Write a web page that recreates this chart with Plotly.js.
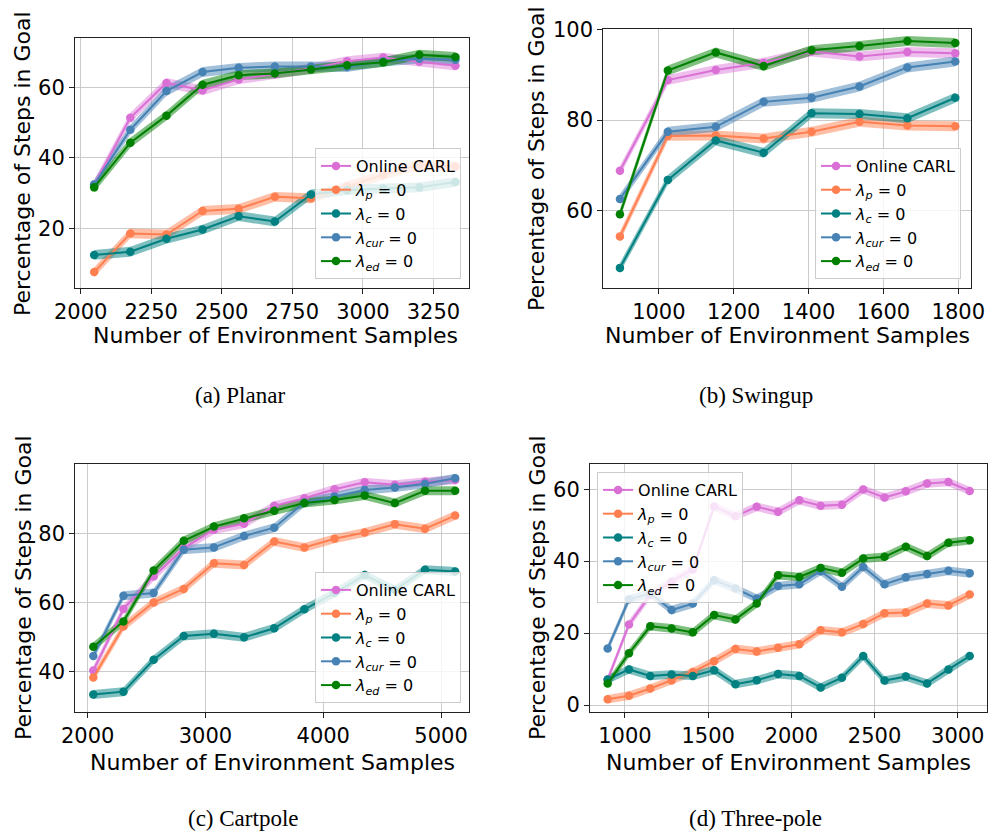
<!DOCTYPE html>
<html>
<head>
<meta charset="utf-8">
<script src="https://cdn.plot.ly/plotly-3.0.1.min.js"></script>
<style>html,body{margin:0;padding:0;background:#fff;}#chart{width:988px;height:832px;}</style>
</head>
<body>
<div id="chart"></div>
<script>
// ---------- data ----------
const seriesNames = ["Online CARL", "<i>λ</i><sub><i>p</i></sub> = 0", "<i>λ</i><sub><i>c</i></sub> = 0", "<i>λ</i><sub><i>cur</i></sub> = 0", "<i>λ</i><sub><i>ed</i></sub> = 0"];
const captions = ["(a) Planar", "(b) Swingup", "(c) Cartpole", "(d) Three-pole"];
const xTitle = "Number of Environment Samples";
const yTitle = "Percentage of Steps in Goal";

// (a) Planar
const xA = [2048, 2176, 2304, 2432, 2560, 2688, 2816, 2944, 3072, 3200, 3328];
const A_carl = [32.4, 51.4, 61.3, 59.2, 62.3, 63.8, 65.4, 67.5, 68.5, 67.3, 66.2];
const A_p    = [7.5, 18.5, 18.2, 24.9, 25.5, 28.9, 28.5, 31.9, 35.2, 38.0, 37.5];
const A_c    = [12.4, 13.3, 17.0, 19.6, 23.4, 21.9, 29.6, 30.8, 31.3, 31.6, 33.1];
const A_cur  = [32.4, 48.0, 59.0, 64.4, 65.6, 66.0, 66.0, 65.8, 67.4, 68.2, 67.9];
const A_ed   = [31.6, 44.3, 52.0, 60.8, 63.5, 64.0, 65.1, 66.3, 67.2, 69.3, 68.7];
const A_spread = 1.4;

// (b) Swingup
const xB = [896, 1024, 1152, 1280, 1408, 1536, 1664, 1792];
const B_carl = [68.8, 88.8, 91.0, 92.6, 95.1, 94.0, 95.0, 94.7];
const B_p    = [54.3, 76.5, 76.6, 75.9, 77.4, 79.6, 78.8, 78.6];
const B_c    = [47.4, 66.8, 75.5, 72.8, 81.5, 81.3, 80.4, 84.9];
const B_cur  = [62.6, 77.4, 78.5, 84.0, 84.9, 87.4, 91.6, 92.9];
const B_ed   = [59.2, 90.9, 94.9, 91.9, 95.4, 96.3, 97.4, 97.0];
const B_spread = 1.1;

// (c) Cartpole
const xC = [2048, 2304, 2560, 2816, 3072, 3328, 3584, 3840, 4096, 4352, 4608, 4864, 5120];
const C_carl = [40.3, 58.1, 67.5, 75.7, 81.0, 82.7, 87.9, 90.1, 92.7, 94.7, 94.0, 94.9, 95.4];
const C_p    = [38.3, 53.0, 60.0, 63.9, 71.3, 70.8, 77.6, 75.9, 78.4, 80.2, 82.6, 81.3, 85.1];
const C_c    = [33.4, 34.2, 43.4, 50.3, 50.9, 49.9, 52.5, 58.0, 62.7, 67.9, 63.6, 69.4, 68.9];
const C_cur  = [44.5, 61.9, 62.7, 75.2, 75.9, 79.2, 81.6, 88.9, 90.6, 92.5, 93.2, 94.3, 95.9];
const C_ed   = [47.2, 54.5, 69.2, 77.8, 81.9, 84.3, 86.5, 88.7, 89.6, 90.9, 88.7, 92.3, 92.3];
const C_spread = 1.3;

// (d) Three-pole
const xD = [896, 1024, 1152, 1280, 1408, 1536, 1664, 1792, 1920, 2048, 2176, 2304, 2432, 2560, 2688, 2816, 2944, 3072];
const D_carl = [7.1, 22.4, 30.6, 34.3, 37.7, 55.2, 52.5, 55.1, 53.7, 56.9, 55.4, 55.7, 59.9, 57.7, 59.4, 61.6, 62.0, 59.5];
const D_p    = [1.6, 2.6, 4.6, 6.8, 9.2, 12.2, 15.6, 14.9, 15.9, 16.9, 20.8, 20.2, 22.5, 25.5, 25.7, 28.2, 27.7, 30.7];
const D_c    = [7.1, 9.9, 8.1, 8.5, 8.1, 9.7, 5.8, 6.9, 8.6, 8.1, 4.9, 7.6, 13.6, 6.8, 7.9, 6.0, 9.9, 13.6];
const D_cur  = [15.7, 29.4, 31.0, 26.4, 28.2, 34.7, 32.4, 29.6, 33.1, 33.6, 37.2, 32.9, 38.4, 33.6, 35.5, 36.4, 37.3, 36.6];
const D_ed   = [6.0, 14.4, 21.9, 21.3, 20.2, 25.0, 23.8, 28.2, 36.1, 35.6, 38.1, 36.8, 40.7, 41.2, 44.0, 41.4, 45.1, 45.8];
const D_spread = 1.2;

const xTicksA = [2000, 2250, 2500, 2750, 3000, 3250];
const yTicksA = [20, 40, 60];
const xTicksB = [1000, 1200, 1400, 1600, 1800];
const yTicksB = [60, 80, 100];
const xTicksC = [2000, 3000, 4000, 5000];
const yTicksC = [40, 60, 80];
const xTicksD = [1000, 1500, 2000, 2500, 3000];
const yTicksD = [0, 20, 40, 60];

// ---------- styles ----------
const colors = ["#DA70D6", "#FF7F50", "#008080", "#4682B4", "#008000"];
const bandColors = ["rgba(218,112,214,0.45)", "rgba(255,127,80,0.5)", "rgba(0,128,128,0.5)", "rgba(70,130,180,0.5)", "rgba(0,128,0,0.5)"];

const panels = [
  {x: xA, ys: [A_carl, A_p, A_c, A_cur, A_ed], s: A_spread, xa: "x", ya: "y", lg: "legend"},
  {x: xB, ys: [B_carl, B_p, B_c, B_cur, B_ed], s: B_spread, xa: "x2", ya: "y2", lg: "legend2"},
  {x: xC, ys: [C_carl, C_p, C_c, C_cur, C_ed], s: C_spread, xa: "x3", ya: "y3", lg: "legend3"},
  {x: xD, ys: [D_carl, D_p, D_c, D_cur, D_ed], s: D_spread, xa: "x4", ya: "y4", lg: "legend4"}
];

const traces = [];
panels.forEach(p => {
  p.ys.forEach((y, i) => {
    const up = y.map(v => v + p.s);
    const lo = y.map(v => v - p.s);
    traces.push({
      x: p.x.concat(p.x.slice().reverse()),
      y: up.concat(lo.slice().reverse()),
      xaxis: p.xa, yaxis: p.ya, type: "scatter", mode: "lines",
      fill: "toself", fillcolor: bandColors[i], line: {width: 0, color: bandColors[i]},
      showlegend: false, hoverinfo: "skip"
    });
  });
  p.ys.forEach((y, i) => {
    traces.push({
      x: p.x, y: y, xaxis: p.xa, yaxis: p.ya, type: "scatter", mode: "lines+markers",
      name: seriesNames[i], legend: p.lg,
      line: {color: colors[i], width: 2}, marker: {color: colors[i], size: 8.5}
    });
  });
});

const tickFont = {family: "DejaVu Sans", size: 21, color: "#000"};
const titleFont = {family: "DejaVu Sans", size: 22, color: "#000"};
function xax(domain, range, ticks, anchor) {
  return {domain: domain, range: range, tickvals: ticks, anchor: anchor,
    showgrid: true, gridcolor: "#cbcbcb", gridwidth: 1, zeroline: false,
    showline: true, linecolor: "#222", linewidth: 1, mirror: true,
    ticks: "outside", ticklen: 5, tickcolor: "#222", tickfont: tickFont};
}
function yax(domain, range, ticks, anchor) {
  return {domain: domain, range: range, tickvals: ticks, anchor: anchor,
    showgrid: true, gridcolor: "#cbcbcb", gridwidth: 1, zeroline: false,
    showline: true, linecolor: "#222", linewidth: 1, mirror: true,
    ticks: "outside", ticklen: 5, tickcolor: "#222", tickfont: tickFont};
}
function leg(x, y) {
  return {x: x, y: y, xanchor: "left", yanchor: "top", bgcolor: "rgba(255,255,255,0.8)",
    bordercolor: "#cccccc", borderwidth: 1, font: {family: "DejaVu Sans", size: 16, color: "#000"},
    tracegroupgap: 0};
}
const capFont = {family: "Liberation Serif", size: 23, color: "#000"};
function cap(text, x, y) {
  return {text: text, x: x, y: y, xref: "paper", yref: "paper", xanchor: "center", yanchor: "middle", showarrow: false, font: capFont};
}
function xt(x, y) {
  return {text: xTitle, x: x, y: y, xref: "paper", yref: "paper", xanchor: "center", yanchor: "middle", showarrow: false, font: titleFont};
}
function yt(x, y) {
  return {text: yTitle, x: x, y: y, xref: "paper", yref: "paper", xanchor: "center", yanchor: "middle", textangle: -90, showarrow: false, font: titleFont};
}

const layout = {
  width: 988, height: 832, margin: {l: 0, r: 0, t: 0, b: 0},
  paper_bgcolor: "#fff", plot_bgcolor: "#fff", showlegend: true,
  xaxis: xax([0.0759, 0.4747], [1980, 3376], xTicksA, "y"),
  yaxis: yax([0.6535, 0.9540], [2.9, 74], yTicksA, "x"),
  xaxis2: xax([0.6106, 0.9828], [851.5, 1834], xTicksB, "y2"),
  yaxis2: yax([0.6535, 0.9648], [42.9, 100], yTicksB, "x2"),
  xaxis3: xax([0.0762, 0.4750], [1895, 5240], xTicksC, "y3"),
  yaxis3: yax([0.1446, 0.4423], [28.4, 100], yTicksC, "x3"),
  xaxis4: xax([0.5972, 0.9990], [790, 3176], xTicksD, "y4"),
  yaxis4: yax([0.1446, 0.4423], [-1.85, 67], yTicksD, "x4"),
  legend: leg(0.3188, 0.8221),
  legend2: leg(0.8249, 0.8221),
  legend3: leg(0.3188, 0.3125),
  legend4: leg(0.6043, 0.4327),
  annotations: [
    xt(275 / 988, 1 - 335 / 832),
    xt(787 / 988, 1 - 335 / 832),
    xt(272 / 988, 1 - 762 / 832),
    xt(788 / 988, 1 - 762 / 832),
    yt(23 / 988, 1 - 164 / 832),
    yt(537 / 988, 1 - 159 / 832),
    yt(23 / 988, 1 - 588 / 832),
    yt(537 / 988, 1 - 588 / 832),
    cap(captions[0], 0.2429, 0.5252),
    cap(captions[1], 0.7652, 0.5252),
    cap(captions[2], 0.2460, 0.0168),
    cap(captions[3], 0.7642, 0.0168)
  ]
};

Plotly.newPlot("chart", traces, layout, {displayModeBar: false, staticPlot: true});
</script>
</body>
</html>
